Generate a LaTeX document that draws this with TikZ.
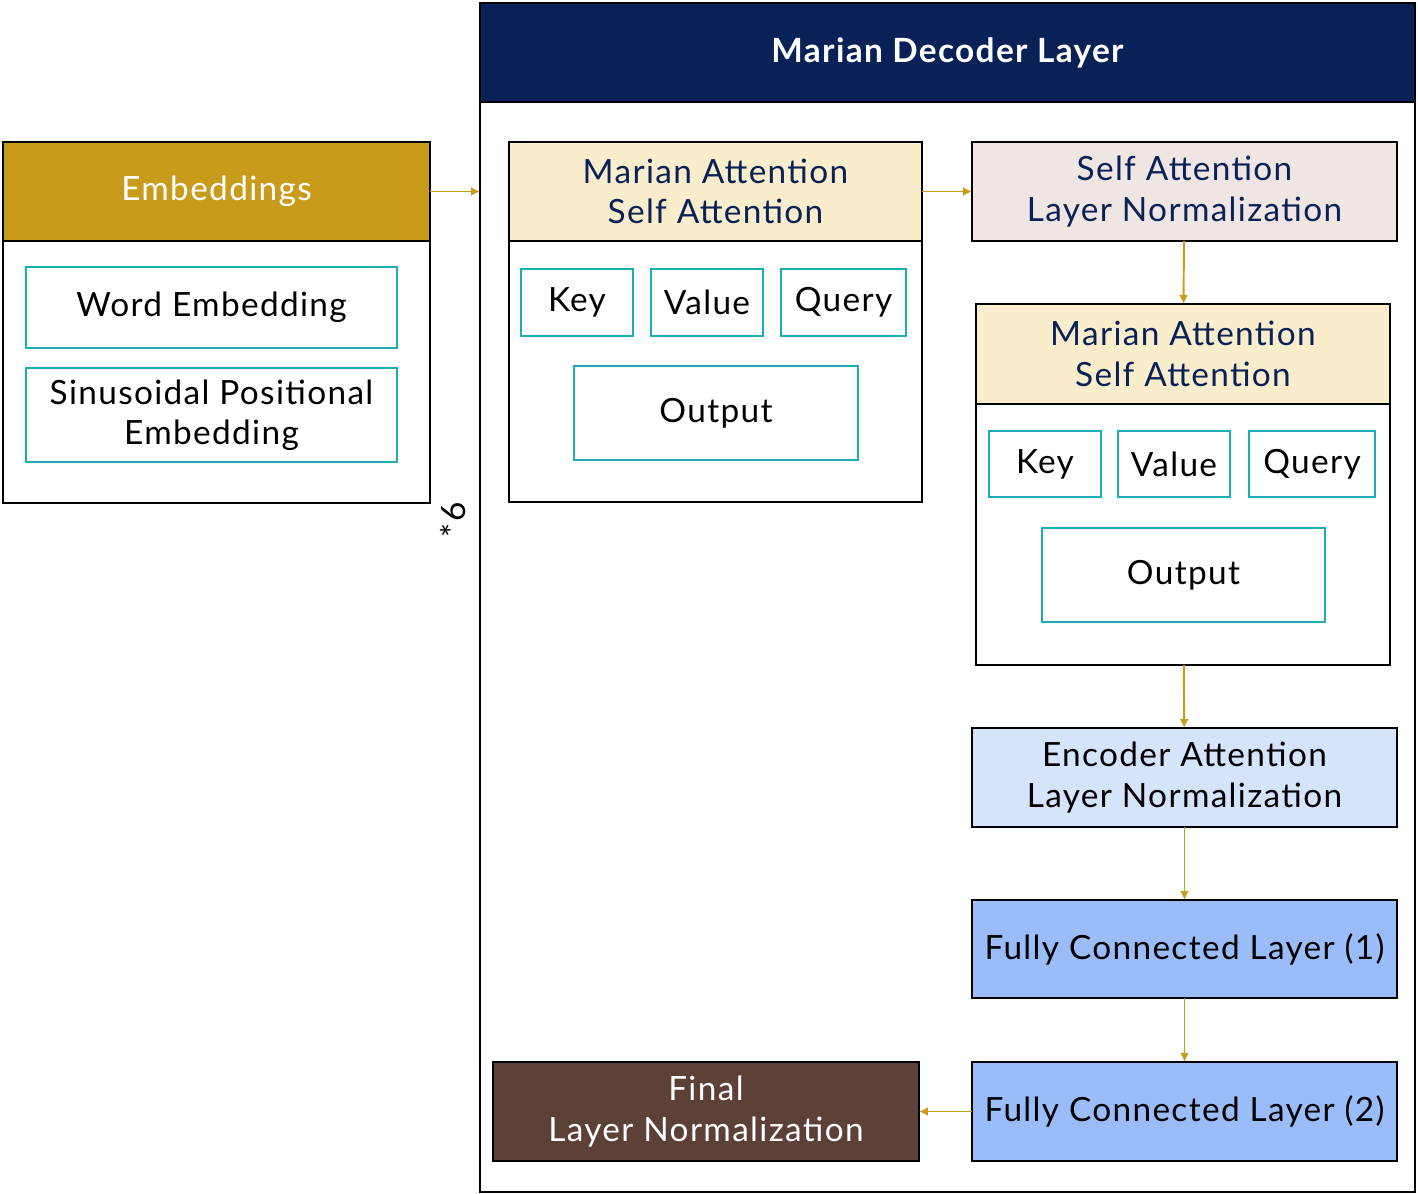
\documentclass[tikz,border=0pt]{standalone}
\usepackage{fontspec}
\setmainfont{Lato}[LetterSpace=4]
\usepackage{tikz}
\usetikzlibrary{arrows.meta}
\definecolor{gold}{HTML}{C89B1A}
\definecolor{navy}{HTML}{0A2158}
\definecolor{cream}{HTML}{F9EDCB}
\definecolor{rosegray}{HTML}{EFE6E4}
\definecolor{paleblue}{HTML}{D5E3FB}
\definecolor{fcblue}{HTML}{9ABCF9}
\definecolor{brown}{HTML}{5D4037}
\definecolor{teal}{HTML}{1AAFB4}
\tikzset{
    every node/.style={rectangle, inner sep=0pt, outer sep=0pt, align=center,
    	font=\fontsize{19}{23}\selectfont}
}
\tikzset{
    box/.style={draw=black, line width=1.1pt},
    part/.style={draw=teal, line width=1.1pt, fill=white},
    flow/.style={draw=gold, line width=1.1pt, -{Latex[length=5pt,width=5pt]}}
}

\begin{document}
\begin{tikzpicture}
	\useasboundingbox (0,0) rectangle (28.36cm,-23.88cm);

	% embeddings
	\node (embbody) [box, minimum width=8.54cm, minimum height=5.24cm] at (4.33cm, -7.44cm) {};
	\node (emb) [box, fill=gold, text=white, minimum width=8.54cm, minimum height=1.98cm] at (4.33cm, -3.83cm) {Embeddings};
	\node (word) [part, minimum width=7.42cm, minimum height=1.62cm] at (4.23cm, -6.15cm) {Word Embedding};
	\node (sinus) [part, minimum width=7.42cm, minimum height=1.88cm] at (4.23cm, -8.30cm) {Sinusoidal Positional\\Embedding};

	% decoder layer
	\node (dec) [box, minimum width=18.70cm, minimum height=23.78cm] at (18.95cm, -11.95cm) {};
	\node (dechead) [box, fill=navy, text=white, font=\fontsize{19}{23}\selectfont\bfseries, minimum width=18.70cm, minimum height=1.98cm] at (18.95cm, -1.05cm) {Marian Decoder Layer};
	\node (times) [rotate=90] at (9.06cm, -10.40cm) {*6};
	\coordinate (decin) at (9.60cm, -3.83cm);

	\node (attbodyA) [box, minimum width=8.26cm, minimum height=5.22cm] at (14.31cm, -7.43cm) {};
	\node (attA) [box, fill=cream, text=navy, minimum width=8.26cm, minimum height=1.98cm] at (14.31cm, -3.83cm) {Marian Attention\\Self Attention};
	\node (keyA) [part, minimum width=2.24cm, minimum height=1.34cm] at (11.54cm, -6.05cm) {Key};
	\node (valueA) [part, minimum width=2.24cm, minimum height=1.34cm] at (14.14cm, -6.05cm) {Value};
	\node (queryA) [part, minimum width=2.50cm, minimum height=1.34cm] at (16.87cm, -6.05cm) {Query};
	\node (outA) [part, minimum width=5.68cm, minimum height=1.88cm] at (14.32cm, -8.26cm) {Output};

	\node (saln) [box, fill=rosegray, text=navy, minimum width=8.50cm, minimum height=1.98cm] at (23.69cm, -3.83cm) {Self Attention\\Layer Normalization};

	\node (attbodyB) [box, minimum width=8.28cm, minimum height=5.22cm] at (23.66cm, -10.69cm) {};
	\node (attB) [box, fill=cream, text=navy, minimum width=8.28cm, minimum height=2.00cm] at (23.66cm, -7.08cm) {Marian Attention\\Self Attention};
	\node (keyB) [part, minimum width=2.24cm, minimum height=1.32cm] at (20.90cm, -9.28cm) {Key};
	\node (valueB) [part, minimum width=2.24cm, minimum height=1.32cm] at (23.48cm, -9.28cm) {Value};
	\node (queryB) [part, minimum width=2.52cm, minimum height=1.32cm] at (26.24cm, -9.28cm) {Query};
	\node (outB) [part, minimum width=5.66cm, minimum height=1.88cm] at (23.67cm, -11.50cm) {Output};

	\node (ealn) [box, fill=paleblue, minimum width=8.50cm, minimum height=1.98cm] at (23.69cm, -15.55cm) {Encoder Attention\\Layer Normalization};
	\node (fcA) [box, fill=fcblue, minimum width=8.50cm, minimum height=1.96cm] at (23.69cm, -18.98cm) {Fully Connected Layer (1)};
	\node (fcB) [box, fill=fcblue, minimum width=8.50cm, minimum height=1.98cm] at (23.69cm, -22.23cm) {Fully Connected Layer (2)};
	\node (final) [box, fill=brown, text=white, minimum width=8.52cm, minimum height=1.98cm] at (14.12cm, -22.23cm) {Final\\Layer Normalization};

	\draw (emb) edge[flow] (decin);
	\draw (attA) edge[flow] (saln);
	\draw (saln) edge[flow] (attB);
	\draw (attbodyB) edge[flow] (ealn);
	\draw (ealn) edge[flow] (fcA);
	\draw (fcA) edge[flow] (fcB);
	\draw (fcB) edge[flow] (final);
\end{tikzpicture}
\end{document}
